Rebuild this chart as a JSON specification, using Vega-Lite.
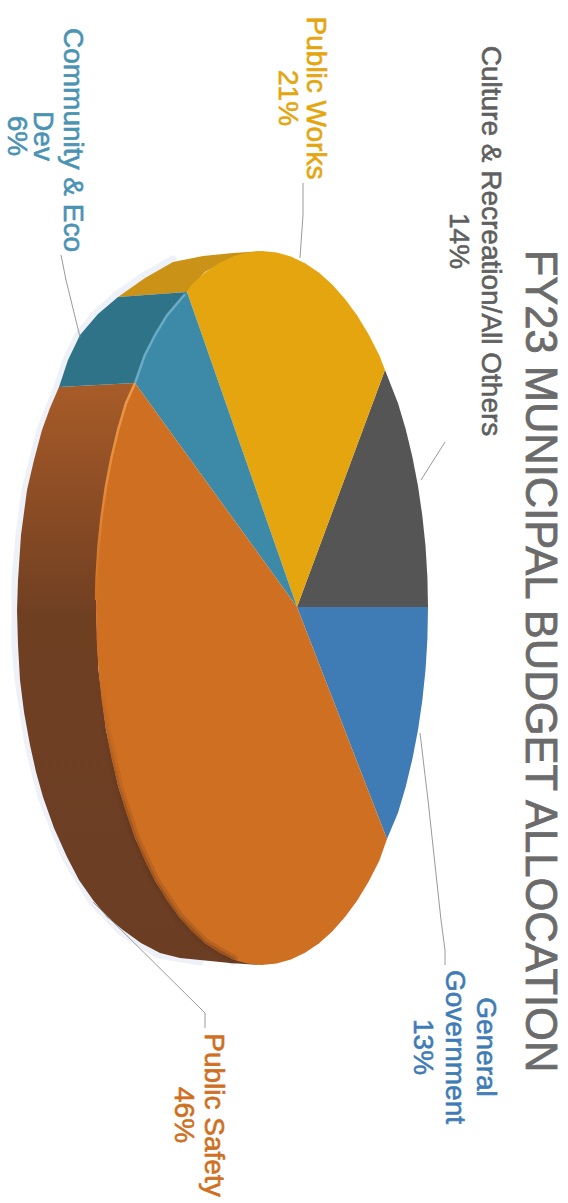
{
  "$schema": "https://vega.github.io/schema/vega-lite/v6.json",
  "width": 568, "height": 1203, "padding": 0, "autosize": "none",
  "background": "white",
  "config": {"view": {"stroke": null}},
  "datasets": {
    "faces": [
      {"part":"Public Works side","i":1,"x":118,"y":297},{"part":"Public Works side","i":2,"x":145,"y":278},{"part":"Public Works side","i":3,"x":173,"y":262},{"part":"Public Works side","i":4,"x":203,"y":256},{"part":"Public Works side","i":5,"x":233,"y":253},{"part":"Public Works side","i":6,"x":262,"y":251},{"part":"Public Works side","i":7,"x":233,"y":257},{"part":"Public Works side","i":8,"x":205,"y":272},{"part":"Public Works side","i":9,"x":187,"y":292},
      {"part":"Community side","i":1,"x":59,"y":387},{"part":"Community side","i":2,"x":68,"y":360},{"part":"Community side","i":3,"x":80,"y":335},{"part":"Community side","i":4,"x":98,"y":314},{"part":"Community side","i":5,"x":118,"y":297},{"part":"Community side","i":6,"x":187,"y":292},{"part":"Community side","i":7,"x":166.8,"y":315.6},{"part":"Community side","i":8,"x":155,"y":335},{"part":"Community side","i":9,"x":144.6,"y":355.6},{"part":"Community side","i":10,"x":135,"y":383},
      {"part":"Culture","i":1,"x":297,"y":607},{"part":"Culture","i":2,"x":385,"y":370},{"part":"Culture","i":3,"x":398,"y":403.2},{"part":"Culture","i":4,"x":405.8,"y":429.5},{"part":"Culture","i":5,"x":412.4,"y":457.1},{"part":"Culture","i":6,"x":418,"y":486},{"part":"Culture","i":7,"x":422.3,"y":515.6},{"part":"Culture","i":8,"x":425.5,"y":546},{"part":"Culture","i":9,"x":427.4,"y":576.9},{"part":"Culture","i":10,"x":428,"y":607},
      {"part":"General Government","i":1,"x":297,"y":607},{"part":"General Government","i":2,"x":428,"y":607},{"part":"General Government","i":3,"x":427.4,"y":639.1},{"part":"General Government","i":4,"x":425.5,"y":670},{"part":"General Government","i":5,"x":422.3,"y":700.4},{"part":"General Government","i":6,"x":418,"y":730},{"part":"General Government","i":7,"x":412.4,"y":758.9},{"part":"General Government","i":8,"x":405.8,"y":786.5},{"part":"General Government","i":9,"x":398,"y":812.8},{"part":"General Government","i":10,"x":387,"y":839},
      {"part":"Public Works","i":1,"x":297,"y":607},{"part":"Public Works","i":2,"x":187,"y":292},{"part":"Public Works","i":3,"x":191.8,"y":284.5},{"part":"Public Works","i":4,"x":205.2,"y":272.5},{"part":"Public Works","i":5,"x":219,"y":263.2},{"part":"Public Works","i":6,"x":233.1,"y":256.4},{"part":"Public Works","i":7,"x":247.5,"y":252.4},{"part":"Public Works","i":8,"x":262,"y":251},{"part":"Public Works","i":9,"x":276.5,"y":252.4},{"part":"Public Works","i":10,"x":290.9,"y":256.4},{"part":"Public Works","i":11,"x":305,"y":263.2},{"part":"Public Works","i":12,"x":318.8,"y":272.5},{"part":"Public Works","i":13,"x":332.2,"y":284.5},{"part":"Public Works","i":14,"x":345,"y":299},{"part":"Public Works","i":15,"x":357.2,"y":315.6},{"part":"Public Works","i":16,"x":368.7,"y":334.5},{"part":"Public Works","i":17,"x":379.4,"y":355.6},{"part":"Public Works","i":18,"x":385,"y":370},
      {"part":"Community","i":1,"x":297,"y":607},{"part":"Community","i":2,"x":135,"y":383},{"part":"Community","i":3,"x":144.6,"y":355.6},{"part":"Community","i":4,"x":155.3,"y":334.5},{"part":"Community","i":5,"x":166.8,"y":315.6},{"part":"Community","i":6,"x":187,"y":292},
      {"part":"Public Safety","i":1,"x":297,"y":607},{"part":"Public Safety","i":2,"x":387,"y":839},{"part":"Public Safety","i":3,"x":379.4,"y":860.4},{"part":"Public Safety","i":4,"x":368.7,"y":881.5},{"part":"Public Safety","i":5,"x":357.2,"y":900.4},{"part":"Public Safety","i":6,"x":345,"y":917},{"part":"Public Safety","i":7,"x":332.2,"y":931.5},{"part":"Public Safety","i":8,"x":318.8,"y":943.5},{"part":"Public Safety","i":9,"x":305,"y":952.8},{"part":"Public Safety","i":10,"x":290.9,"y":959.6},{"part":"Public Safety","i":11,"x":276.5,"y":963.6},{"part":"Public Safety","i":12,"x":262,"y":965},{"part":"Public Safety","i":13,"x":247.5,"y":963.6},{"part":"Public Safety","i":14,"x":233.1,"y":959.6},{"part":"Public Safety","i":15,"x":219,"y":952.8},{"part":"Public Safety","i":16,"x":205.2,"y":943.5},{"part":"Public Safety","i":17,"x":191.8,"y":931.5},{"part":"Public Safety","i":18,"x":179,"y":917},{"part":"Public Safety","i":19,"x":166.8,"y":900.4},{"part":"Public Safety","i":20,"x":155.3,"y":881.5},{"part":"Public Safety","i":21,"x":144.6,"y":860.4},{"part":"Public Safety","i":22,"x":134.8,"y":837.5},{"part":"Public Safety","i":23,"x":126,"y":812.8},{"part":"Public Safety","i":24,"x":118.2,"y":786.5},{"part":"Public Safety","i":25,"x":111.6,"y":758.9},{"part":"Public Safety","i":26,"x":106,"y":730},{"part":"Public Safety","i":27,"x":101.7,"y":700.4},{"part":"Public Safety","i":28,"x":98.5,"y":670},{"part":"Public Safety","i":29,"x":96.6,"y":639.1},{"part":"Public Safety","i":30,"x":96,"y":608},{"part":"Public Safety","i":31,"x":96.6,"y":576.9},{"part":"Public Safety","i":32,"x":98.5,"y":546},{"part":"Public Safety","i":33,"x":101.7,"y":515.6},{"part":"Public Safety","i":34,"x":106,"y":486},{"part":"Public Safety","i":35,"x":111.6,"y":457.1},{"part":"Public Safety","i":36,"x":118.2,"y":429.5},{"part":"Public Safety","i":37,"x":126,"y":403.2},{"part":"Public Safety","i":38,"x":135,"y":383}
    ],
    "safetySide": [
      {"i":1,"x":59,"y":387},{"i":2,"x":50,"y":408},{"i":3,"x":42,"y":430},{"i":4,"x":34,"y":460},{"i":5,"x":27,"y":490},{"i":6,"x":21,"y":535},{"i":7,"x":18,"y":580},{"i":8,"x":17,"y":610},{"i":9,"x":18,"y":645},{"i":10,"x":20,"y":680},{"i":11,"x":24,"y":712},{"i":12,"x":30,"y":745},{"i":13,"x":36,"y":772},{"i":14,"x":43,"y":797},{"i":15,"x":54,"y":828},{"i":16,"x":67,"y":857},{"i":17,"x":79,"y":880},{"i":18,"x":93,"y":900},{"i":19,"x":107,"y":917},{"i":20,"x":123,"y":930},{"i":21,"x":141,"y":943},{"i":22,"x":160,"y":953},{"i":23,"x":180,"y":958},{"i":24,"x":200,"y":960},{"i":25,"x":230,"y":963},{"i":26,"x":262,"y":965},
      {"i":27,"x":233.1,"y":959.6},{"i":28,"x":205.2,"y":943.5},{"i":29,"x":179,"y":917},{"i":30,"x":155.3,"y":881.5},{"i":31,"x":134.8,"y":837.5},{"i":32,"x":118.2,"y":786.5},{"i":33,"x":106,"y":730},{"i":34,"x":98.5,"y":670},{"i":35,"x":96,"y":608},{"i":36,"x":98.5,"y":546},{"i":37,"x":106,"y":486},{"i":38,"x":118.2,"y":429.5},{"i":39,"x":135,"y":383}
    ],
    "rim": [
      {"i":1,"x":173,"y":259},{"i":2,"x":145,"y":275},{"i":3,"x":116,"y":295},{"i":4,"x":96,"y":313},{"i":5,"x":78,"y":335},{"i":6,"x":66,"y":360},{"i":7,"x":57,"y":387},{"i":8,"x":40,"y":430},{"i":9,"x":25,"y":490},{"i":10,"x":19,"y":535},{"i":11,"x":15,"y":580},{"i":12,"x":15,"y":645},{"i":13,"x":18,"y":680},{"i":14,"x":28,"y":745},{"i":15,"x":41,"y":797},{"i":16,"x":65,"y":858},{"i":17,"x":91,"y":901},{"i":18,"x":121,"y":932},{"i":19,"x":158,"y":955},{"i":20,"x":200,"y":962}
    ],
    "shade": [
      {"i":1,"x":98.5,"y":670},{"i":2,"x":101.7,"y":700.4},{"i":3,"x":106,"y":730},{"i":4,"x":118.2,"y":786.5},{"i":5,"x":134.8,"y":837.5},{"i":6,"x":155.3,"y":881.5},{"i":7,"x":179,"y":917},{"i":8,"x":205.2,"y":943.5},{"i":9,"x":233.1,"y":959.6}
    ],
    "highlights": [
      {"part":"Community","i":1,"x":135,"y":383},{"part":"Community","i":2,"x":144.6,"y":355.6},{"part":"Community","i":3,"x":155.3,"y":334.5},{"part":"Community","i":4,"x":166.8,"y":315.6},{"part":"Community","i":5,"x":185,"y":294},
      {"part":"Public Safety","i":1,"x":135,"y":383},{"part":"Public Safety","i":2,"x":126,"y":403.2},{"part":"Public Safety","i":3,"x":118.2,"y":429.5},{"part":"Public Safety","i":4,"x":111.6,"y":457.1},{"part":"Public Safety","i":5,"x":106,"y":486},{"part":"Public Safety","i":6,"x":101.7,"y":515.6},{"part":"Public Safety","i":7,"x":98.5,"y":546},{"part":"Public Safety","i":8,"x":96.6,"y":576.9},{"part":"Public Safety","i":9,"x":96,"y":600}
    ],
    "leaders": [
      {"part":"Public Works","i":1,"x":303,"y":183},{"part":"Public Works","i":2,"x":303,"y":215},{"part":"Public Works","i":3,"x":300,"y":258},
      {"part":"Community","i":1,"x":61,"y":255},{"part":"Community","i":2,"x":66,"y":280},{"part":"Community","i":3,"x":80,"y":337},
      {"part":"Culture","i":1,"x":445,"y":442},{"part":"Culture","i":2,"x":421,"y":480},
      {"part":"General Government","i":1,"x":420,"y":733},{"part":"General Government","i":2,"x":428,"y":800},{"part":"General Government","i":3,"x":441,"y":920},{"part":"General Government","i":4,"x":445,"y":950},{"part":"General Government","i":5,"x":445,"y":965},
      {"part":"Public Safety","i":1,"x":93,"y":902},{"part":"Public Safety","i":2,"x":205,"y":1013},{"part":"Public Safety","i":3,"x":205,"y":1028}
    ],
    "labels": [
      {"part":"Culture","line":"Culture & Recreation/All Others","x":490,"y":241},
      {"part":"Culture","line":"14%","x":458,"y":241},
      {"part":"Public Works","line":"Public Works","x":315,"y":98},
      {"part":"Public Works","line":"21%","x":287,"y":98},
      {"part":"Community","line":"Community & Eco","x":72,"y":140},
      {"part":"Community","line":"Dev","x":42,"y":136},
      {"part":"Community","line":"6%","x":16,"y":136},
      {"part":"General Government","line":"General","x":485,"y":1047},
      {"part":"General Government","line":"Government","x":454,"y":1047},
      {"part":"General Government","line":"13%","x":422,"y":1047},
      {"part":"Public Safety","line":"Public Safety","x":213,"y":1115},
      {"part":"Public Safety","line":"46%","x":183,"y":1115}
    ],
    "heading": [{"line":"FY23 MUNICIPAL BUDGET ALLOCATION","x":539,"y":661}]
  },
  "encoding": {
    "x": {"field":"x","type":"quantitative","axis":null,"scale":{"domain":[0,568],"nice":false,"zero":false}},
    "y": {"field":"y","type":"quantitative","axis":null,"scale":{"domain":[1203,0],"nice":false,"zero":false}}
  },
  "layer": [
    {
      "data":{"name":"rim"},
      "mark":{"type":"line","stroke":"#e3e9f4","strokeWidth":7,"opacity":0.6,"strokeCap":"round","strokeJoin":"round"},
      "encoding":{"order":{"field":"i","type":"quantitative"}}
    },
    {
      "data":{"name":"safetySide"},
      "mark":{"type":"line","filled":true,"strokeWidth":0,
        "fill":{"gradient":"linear","x1":0,"y1":0,"x2":0,"y2":1,"stops":[{"offset":0,"color":"#a85c28"},{"offset":0.18,"color":"#8f4e25"},{"offset":0.4,"color":"#6f3f22"},{"offset":1,"color":"#6b3e24"}]}},
      "encoding":{"order":{"field":"i","type":"quantitative"}}
    },
    {
      "data":{"name":"faces"},
      "mark":{"type":"line","filled":true,"strokeWidth":0},
      "encoding":{
        "order":{"field":"i","type":"quantitative"},
        "color":{"field":"part","type":"nominal","legend":null,
          "scale":{"domain":["Public Works side","Community side","Culture","General Government","Public Works","Community","Public Safety"],
                   "range":["#cb9218","#2f7388","#555555","#3f7cb5","#e5a50f","#3d8aa8","#cf6f22"]}}
      }
    },
    {
      "data":{"name":"shade"},
      "mark":{"type":"line","strokeWidth":10,"strokeCap":"round",
        "stroke":{"gradient":"linear","x1":0,"y1":0,"x2":0,"y2":1,"stops":[{"offset":0,"color":"rgba(90,48,24,0)"},{"offset":0.5,"color":"rgba(90,48,24,0.16)"},{"offset":1,"color":"rgba(90,48,24,0.2)"}]}},
      "encoding":{"order":{"field":"i","type":"quantitative"}}
    },
    {
      "data":{"name":"shade"},
      "mark":{"type":"line","strokeWidth":4,"strokeCap":"round",
        "stroke":{"gradient":"linear","x1":0,"y1":0,"x2":0,"y2":1,"stops":[{"offset":0,"color":"rgba(90,48,24,0)"},{"offset":0.5,"color":"rgba(90,48,24,0.25)"},{"offset":1,"color":"rgba(90,48,24,0.3)"}]}},
      "encoding":{"order":{"field":"i","type":"quantitative"}}
    },
    {
      "data":{"name":"highlights"},
      "transform":[{"filter":"datum.part === 'Community'"}],
      "mark":{"type":"line","stroke":"#6fb0c8","strokeWidth":2.5,"opacity":0.85},
      "encoding":{"order":{"field":"i","type":"quantitative"}}
    },
    {
      "data":{"name":"highlights"},
      "transform":[{"filter":"datum.part === 'Public Safety'"}],
      "mark":{"type":"line","strokeWidth":2.5,
        "stroke":{"gradient":"linear","x1":0,"y1":0,"x2":0,"y2":1,"stops":[{"offset":0,"color":"#eb9a4a"},{"offset":0.5,"color":"#e58a3a"},{"offset":1,"color":"#cf6f22"}]}},
      "encoding":{"order":{"field":"i","type":"quantitative"}}
    },
    {
      "data":{"name":"leaders"},
      "mark":{"type":"line","stroke":"#9a9a9a","strokeWidth":1},
      "encoding":{"order":{"field":"i","type":"quantitative"},"detail":{"field":"part"}}
    },
    {
      "data":{"name":"labels"},
      "mark":{"type":"text","angle":90,"align":"center","baseline":"middle","font":"Liberation Sans","fontSize":28,"strokeWidth":0.6},
      "encoding":{
        "text":{"field":"line"},
        "color":{"field":"part","type":"nominal","legend":null,
          "scale":{"domain":["Culture","Public Works","Community","General Government","Public Safety"],
                   "range":["#5f5f5f","#e5a50f","#4a93b3","#3f7cb5","#cf6f22"]}},
        "stroke":{"field":"part","type":"nominal","legend":null,
          "scale":{"domain":["Culture","Public Works","Community","General Government","Public Safety"],
                   "range":["#5f5f5f","#e5a50f","#4a93b3","#3f7cb5","#cf6f22"]}}
      }
    },
    {
      "data":{"name":"heading"},
      "mark":{"type":"text","angle":90,"align":"center","baseline":"middle","font":"Liberation Sans","fontSize":43.5,"fill":"#6b6b6b","stroke":"#6b6b6b","strokeWidth":0.8},
      "encoding":{"text":{"field":"line"}}
    }
  ],
  "resolve":{"scale":{"color":"independent"}}
}
